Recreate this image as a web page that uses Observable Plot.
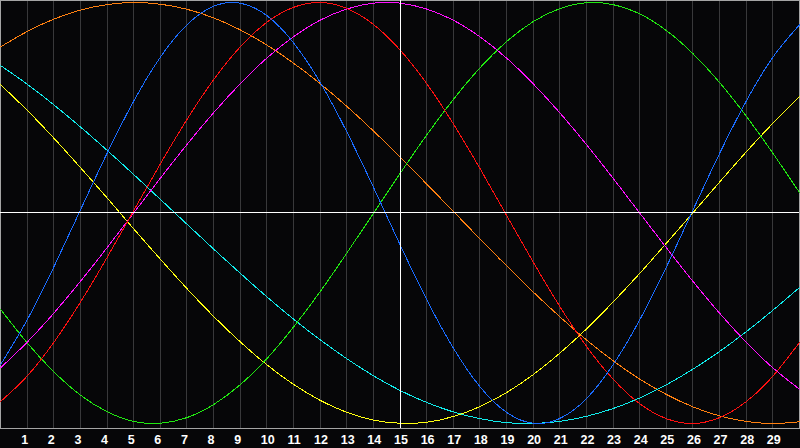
<!DOCTYPE html>
<html>
<head>
<meta charset="utf-8">
<script src="https://cdn.jsdelivr.net/npm/d3@7"></script>
<script src="https://cdn.jsdelivr.net/npm/@observablehq/plot@0.6"></script>
<style>
  html, body { margin: 0; padding: 0; background: #060608; }
  #chart svg { display: block; }
</style>
</head>
<body>
<div id="chart"></div>
<script>
const days = [0,1,2,3,4,5,6,7,8,9,10,11,12,13,14,15,16,17,18,19,20,21,22,23,24,25,26,27,28,29,30];
const tickDays = [1,2,3,4,5,6,7,8,9,10,11,12,13,14,15,16,17,18,19,20,21,22,23,24,25,26,27,28,29];

const orangeValues = [0.789,0.862,0.921,0.964,0.990,1.000,0.992,0.968,0.927,0.870,0.798,0.712,0.615,0.507,0.390,0.266,0.138,0.008,-0.123,-0.251,-0.375,-0.493,-0.603,-0.702,-0.789,-0.862,-0.921,-0.964,-0.990,-1.000,-0.992];
const cyanValues = [0.701,0.612,0.514,0.409,0.298,0.183,0.065,-0.053,-0.171,-0.286,-0.398,-0.504,-0.602,-0.692,-0.773,-0.843,-0.900,-0.945,-0.977,-0.996,-1.000,-0.990,-0.966,-0.929,-0.879,-0.816,-0.742,-0.658,-0.564,-0.462,-0.354];
const yellowValues = [0.610,0.488,0.356,0.216,0.072,-0.075,-0.219,-0.359,-0.491,-0.612,-0.721,-0.814,-0.890,-0.947,-0.984,-0.999,-0.994,-0.967,-0.920,-0.853,-0.768,-0.666,-0.551,-0.423,-0.287,-0.144,0.001,0.147,0.290,0.426,0.553];
const greenValues = [-0.457,-0.617,-0.754,-0.865,-0.944,-0.990,-0.999,-0.972,-0.910,-0.816,-0.692,-0.542,-0.374,-0.191,-0.002,0.187,0.370,0.539,0.689,0.814,0.909,0.971,0.999,0.990,0.946,0.867,0.757,0.620,0.460,0.284,0.097];
const magentaValues = [-0.736,-0.614,-0.476,-0.325,-0.165,0.000,0.165,0.325,0.476,0.614,0.736,0.837,0.916,0.969,0.997,0.997,0.969,0.916,0.837,0.736,0.614,0.476,0.325,0.165,0.000,-0.165,-0.325,-0.476,-0.614,-0.736,-0.837];
const redValues = [-0.896,-0.775,-0.615,-0.424,-0.212,0.011,0.233,0.444,0.633,0.789,0.906,0.977,1.000,0.972,0.896,0.775,0.615,0.424,0.212,-0.011,-0.233,-0.444,-0.633,-0.789,-0.906,-0.977,-1.000,-0.972,-0.896,-0.775,-0.615];
const blueValues = [-0.721,-0.508,-0.257,0.014,0.283,0.531,0.740,0.894,0.982,0.997,0.938,0.809,0.621,0.386,0.123,-0.150,-0.411,-0.641,-0.825,-0.947,-0.999,-0.976,-0.882,-0.721,-0.508,-0.257,0.014,0.283,0.531,0.740,0.894];

const seriesNames = ["orange","cyan","yellow","green","magenta","red","blue"];
const seriesValues = [orangeValues, cyanValues, yellowValues, greenValues, magentaValues, redValues, blueValues];
const seriesColors = ["#ff8010","#10ecec","#ffff10","#20e810","#ff10ff","#ff1010","#1a6cff"];

const rows = [];
seriesNames.forEach((name, i) => {
  days.forEach((d, j) => rows.push({series: name, day: d, value: seriesValues[i][j]}));
});

const lineMarks = seriesNames.map((name, i) =>
  Plot.line(rows.filter(r => r.series === name), {
    x: "day", y: "value", stroke: seriesColors[i], strokeWidth: 1, curve: "natural",
    shapeRendering: "crispEdges"
  })
);

const chart = Plot.plot({
  width: 800,
  height: 448,
  marginLeft: 0,
  marginRight: 1,
  marginTop: 0,
  marginBottom: 20,
  style: {background: "#060608", color: "white", overflow: "visible"},
  x: {domain: [0, 30], axis: null},
  y: {domain: [-1.0238, 1.0095], axis: null},
  marks: [
    Plot.ruleX(tickDays, {stroke: "#38383a", strokeWidth: 1, shapeRendering: "crispEdges"}),
    Plot.frame({stroke: "#a4a4a4", strokeWidth: 1}),
    ...lineMarks,
    Plot.ruleX([15], {stroke: "#ffffff", strokeWidth: 1, shapeRendering: "crispEdges"}),
    Plot.ruleY([0], {stroke: "#ffffff", strokeWidth: 1, shapeRendering: "crispEdges"}),
    Plot.axisX(tickDays, {
      tickSize: 0, tickPadding: 6.5, fill: "#ffffff", fontSize: 12.5, fontWeight: "bold",
      fontFamily: "Liberation Sans, Arial, sans-serif", textAnchor: "start", dx: -6, label: null
    })
  ]
});
document.getElementById("chart").appendChild(chart);
</script>
</body>
</html>
